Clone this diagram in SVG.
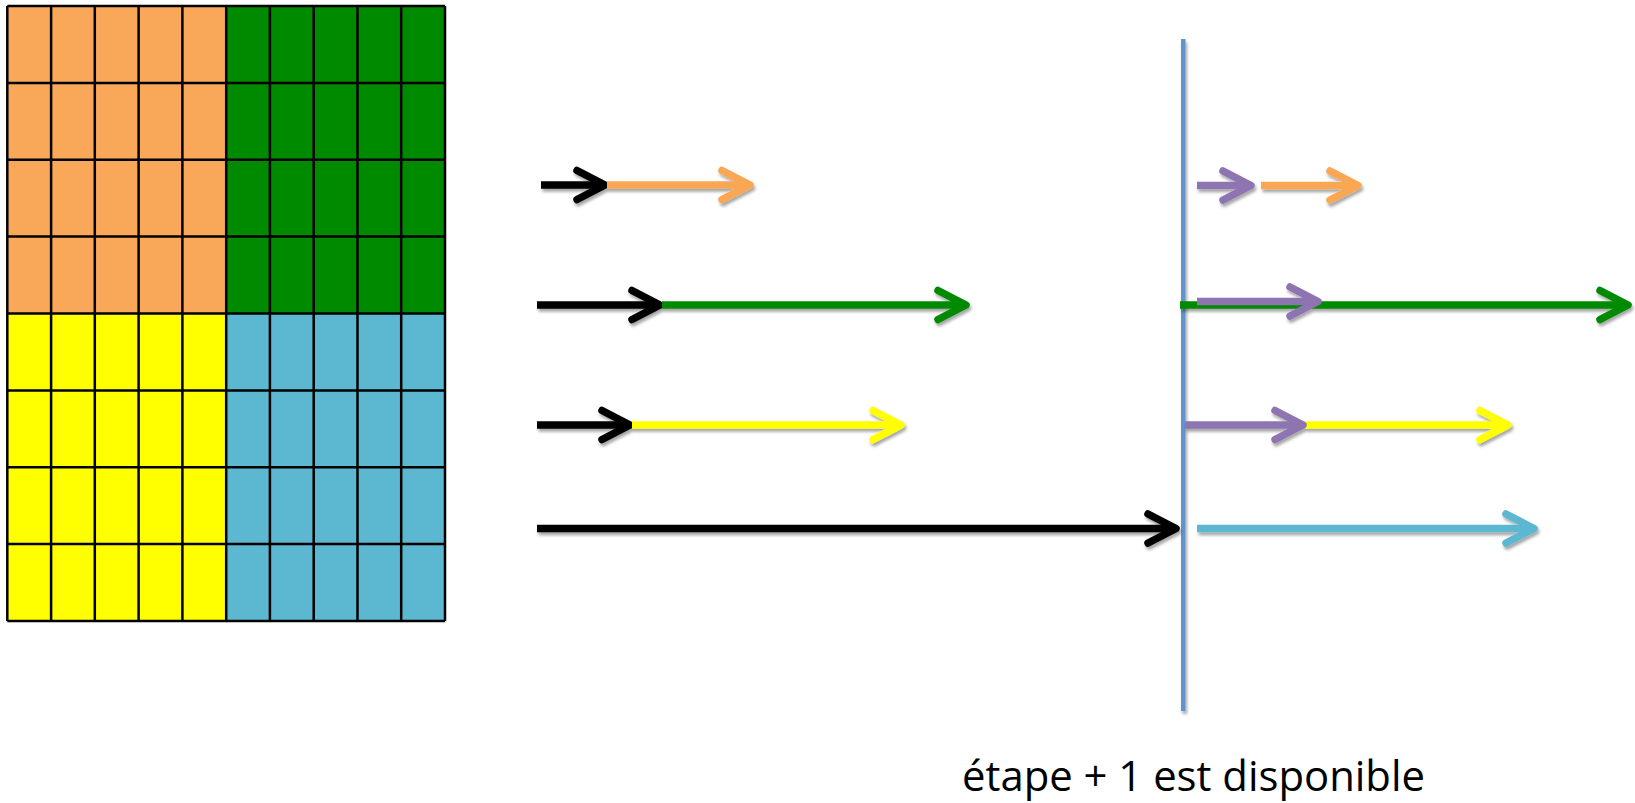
<svg xmlns="http://www.w3.org/2000/svg" width="1635" height="803" viewBox="0 0 1635 803">
  <style>
    .cell-lines { fill: none; stroke: #000; stroke-width: 2.5; }
    .shaft { fill: none; stroke-width: 7.5; stroke-linecap: butt; }
    .head { fill: none; stroke-width: 7.5; stroke-linecap: round; stroke-linejoin: round; }
    .k { stroke: #000; }
    .o { stroke: #F9A752; }
    .g { stroke: #008A00; }
    .y { stroke: #FFFF00; }
    .p { stroke: #8E74B2; }
    .c { stroke: #5BB8D0; }
    .label { font-family: "Open Sans", "Liberation Sans", sans-serif; font-size: 42px; fill: #000; }
  </style>
  <defs>
    <filter id="shadow" filterUnits="userSpaceOnUse" x="0" y="0" width="1635" height="803">
      <feDropShadow dx="1.5" dy="3" stdDeviation="1.8" flood-color="#000" flood-opacity="0.35"/>
    </filter>
    <!-- open chevron heads, one per stroke colour -->
    <marker id="head-k" markerUnits="userSpaceOnUse" viewBox="-36 -22 42 44" refX="0" refY="0" markerWidth="42" markerHeight="44" orient="auto" overflow="visible">
      <path class="head k" d="M-28,-14.5 L0,0 L-28,14.5"/>
    </marker>
    <marker id="head-o" markerUnits="userSpaceOnUse" viewBox="-36 -22 42 44" refX="0" refY="0" markerWidth="42" markerHeight="44" orient="auto" overflow="visible">
      <path class="head o" d="M-28,-14.5 L0,0 L-28,14.5"/>
    </marker>
    <marker id="head-g" markerUnits="userSpaceOnUse" viewBox="-36 -22 42 44" refX="0" refY="0" markerWidth="42" markerHeight="44" orient="auto" overflow="visible">
      <path class="head g" d="M-28,-14.5 L0,0 L-28,14.5"/>
    </marker>
    <marker id="head-y" markerUnits="userSpaceOnUse" viewBox="-36 -22 42 44" refX="0" refY="0" markerWidth="42" markerHeight="44" orient="auto" overflow="visible">
      <path class="head y" d="M-28,-14.5 L0,0 L-28,14.5"/>
    </marker>
    <marker id="head-p" markerUnits="userSpaceOnUse" viewBox="-36 -22 42 44" refX="0" refY="0" markerWidth="42" markerHeight="44" orient="auto" overflow="visible">
      <path class="head p" d="M-28,-14.5 L0,0 L-28,14.5"/>
    </marker>
    <marker id="head-c" markerUnits="userSpaceOnUse" viewBox="-36 -22 42 44" refX="0" refY="0" markerWidth="42" markerHeight="44" orient="auto" overflow="visible">
      <path class="head c" d="M-28,-14.5 L0,0 L-28,14.5"/>
    </marker>
  </defs>

  <rect width="1635" height="803" fill="#fff"/>

  <!-- 10 x 8 grid split into four coloured blocks -->
  <g id="block-orange">
    <rect x="7.3" y="6" width="218.9" height="307.5" fill="#F9A85A"/>
  </g>
  <g id="block-green">
    <rect x="226.2" y="6" width="218.8" height="307.5" fill="#008A00"/>
  </g>
  <g id="block-yellow">
    <rect x="7.3" y="313.5" width="218.9" height="307.5" fill="#FFFF00"/>
  </g>
  <g id="block-blue">
    <rect x="226.2" y="313.5" width="218.8" height="307.5" fill="#5BB8D0"/>
  </g>
  <g id="grid-lines">
    <path class="cell-lines" d="M7.3,6 V621 M51.1,6 V621 M94.8,6 V621 M138.6,6 V621 M182.4,6 V621 M226.2,6 V621 M269.9,6 V621 M313.7,6 V621 M357.5,6 V621 M401.2,6 V621 M445,6 V621
      M7.3,6 H445 M7.3,82.9 H445 M7.3,159.75 H445 M7.3,236.6 H445 M7.3,313.5 H445 M7.3,390.4 H445 M7.3,467.25 H445 M7.3,544.1 H445 M7.3,621 H445"/>
  </g>

  <!-- step boundary -->
  <g id="step-line" filter="url(#shadow)">
    <rect x="1181" y="39" width="4.5" height="672" fill="#5E95CE"/>
  </g>

  <g id="connectors" filter="url(#shadow)">
    <!-- row 1 -->
    <line class="shaft k" x1="541" y1="185" x2="605" y2="185" marker-end="url(#head-k)"/>
    <line class="shaft o" x1="607" y1="185" x2="750" y2="185" marker-end="url(#head-o)"/>
    <line class="shaft p" x1="1197" y1="185.5" x2="1251" y2="185.5" marker-end="url(#head-p)"/>
    <line class="shaft o" x1="1261" y1="185.5" x2="1358" y2="185.5" marker-end="url(#head-o)"/>
    <!-- row 2 -->
    <line class="shaft k" x1="537" y1="305" x2="660" y2="305" marker-end="url(#head-k)"/>
    <line class="shaft g" x1="662" y1="305" x2="966" y2="305" marker-end="url(#head-g)"/>
    <line class="shaft g" x1="1180" y1="305" x2="1628" y2="305" marker-end="url(#head-g)"/>
    <line class="shaft p" x1="1197" y1="301.5" x2="1318" y2="301.5" marker-end="url(#head-p)"/>
    <!-- row 3 -->
    <line class="shaft k" x1="537" y1="425" x2="630" y2="425" marker-end="url(#head-k)"/>
    <line class="shaft y" x1="632" y1="425" x2="901" y2="425" marker-end="url(#head-y)"/>
    <line class="shaft y" x1="1305" y1="425" x2="1508" y2="425" marker-end="url(#head-y)"/>
    <line class="shaft p" x1="1185" y1="425" x2="1303" y2="425" marker-end="url(#head-p)"/>
    <!-- row 4 -->
    <line class="shaft k" x1="537" y1="528.5" x2="1176" y2="528.5" marker-end="url(#head-k)"/>
    <line class="shaft c" x1="1197" y1="528.5" x2="1534" y2="528.5" marker-end="url(#head-c)"/>
  </g>

  <g id="caption">
    <text class="label" x="962" y="791" textLength="463" lengthAdjust="spacingAndGlyphs">étape + 1 est disponible</text>
  </g>
</svg>
